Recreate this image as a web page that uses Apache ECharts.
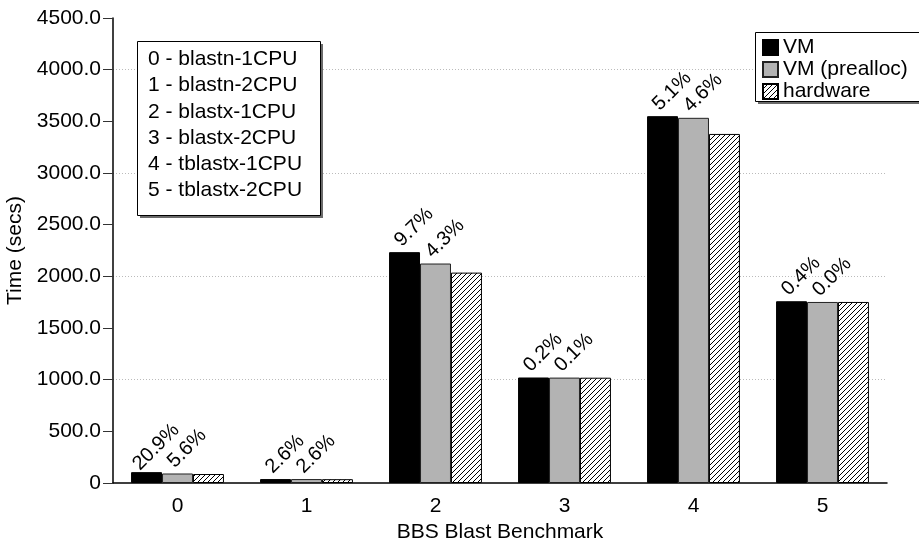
<!DOCTYPE html>
<html>
<head>
<meta charset="utf-8">
<script src="https://cdn.jsdelivr.net/npm/echarts@6/dist/echarts.min.js"></script>
<style>
  html, body { margin: 0; padding: 0; background: #fff; }
  #chart { width: 919px; height: 539px; }
</style>
</head>
<body>
<div id="chart"></div>
<script>
// 横轴类别和各组数据
const categories = ['0', '1', '2', '3', '4', '5']
const benchNames = ['0 - blastn-1CPU', '1 - blastn-2CPU', '2 - blastx-1CPU', '3 - blastx-2CPU', '4 - tblastx-1CPU', '5 - tblastx-2CPU']
const vmData = [105, 38, 2234, 1021, 3550, 1759]
const preallocData = [92, 38, 2124, 1020, 3534, 1752]
const hardwareData = [87, 37, 2036, 1019, 3378, 1752]
// 柱顶的百分比标签
const vmPct = ['20.9%', '2.6%', '9.7%', '0.2%', '5.1%', '0.4%']
const preallocPct = ['5.6%', '2.6%', '4.3%', '0.1%', '4.6%', '0.0%']

const FONT = '"Liberation Sans", Arial, sans-serif'

// 斜线填充
function hatch() {
  const c = document.createElement('canvas')
  c.width = 5
  c.height = 5
  const ctx = c.getContext('2d')
  ctx.fillStyle = '#fff'
  ctx.fillRect(0, 0, 5, 5)
  ctx.strokeStyle = '#000'
  ctx.lineWidth = 1
  ctx.beginPath()
  ctx.moveTo(-1, 6); ctx.lineTo(6, -1)
  ctx.moveTo(-1, 1); ctx.lineTo(1, -1)
  ctx.moveTo(4, 6); ctx.lineTo(6, 4)
  ctx.stroke()
  return c
}

const pctLabel = arr => ({
  show: true,
  position: [25, -25],
  rotate: 45,
  align: 'center',
  verticalAlign: 'middle',
  fontFamily: FONT,
  fontSize: 20,
  color: '#000',
  formatter: p => arr[p.dataIndex]
})

// 带阴影的方框（说明框和图例框）
const shadowBox = (x, y, w, h) => [
  { type: 'rect', z: 3, silent: true, shape: { x: x + 3, y: y + 3, width: w, height: h }, style: { fill: '#6a6a6a' } },
  { type: 'rect', z: 3, silent: true, shape: { x: x + 0.5, y: y + 0.5, width: w, height: h }, style: { fill: '#fff', stroke: '#000', lineWidth: 1 } }
]

const chart = echarts.init(document.getElementById('chart'))
chart.setOption({
  animation: false,
  graphic: [
    ...shadowBox(137, 41, 183, 174),
    {
      type: 'text', z: 3, silent: true, x: 148, y: 46,
      style: { text: benchNames.join('\n'), font: '21px ' + FONT, lineHeight: 26.3, fill: '#000' }
    },
    ...shadowBox(755, 32, 166, 69)
  ],
  legend: {
    orient: 'vertical',
    left: 755,
    top: 32,
    padding: [5, 10, 4, 7],
    itemWidth: 15,
    itemHeight: 15,
    itemGap: 1,
    icon: 'rect',
    textStyle: { fontFamily: FONT, fontSize: 21, color: '#000' },
    data: ['VM', 'VM (prealloc)', 'hardware']
  },
  grid: { left: 113, right: 32, top: 18, bottom: 56, containLabel: false, outerBoundsMode: 'none' },
  xAxis: {
    type: 'category',
    data: categories,
    name: 'BBS Blast Benchmark',
    nameLocation: 'middle',
    nameGap: 38,
    nameTextStyle: { fontFamily: FONT, fontSize: 21, color: '#000' },
    axisLine: { lineStyle: { color: '#000', width: 1.5 } },
    axisTick: { alignWithLabel: true, length: 8, lineStyle: { color: '#000' } },
    axisLabel: { fontFamily: FONT, fontSize: 21, color: '#000', margin: 13 }
  },
  yAxis: [
    {
      type: 'value',
      min: 0,
      max: 4500,
      interval: 500,
      name: 'Time (secs)',
      nameLocation: 'middle',
      nameRotate: 90,
      nameGap: 79,
      nameTextStyle: { fontFamily: FONT, fontSize: 21, color: '#000' },
      axisLine: { show: true, lineStyle: { color: '#000', width: 1.5 } },
      axisTick: { show: true, length: 10, lineStyle: { color: '#333' } },
      axisLabel: {
        fontFamily: FONT, fontSize: 21, color: '#000', margin: 12,
        formatter: v => (v === 0 ? '0' : v.toFixed(1))
      },
      splitLine: { show: false }
    },
    {
      // 只用于画每1000的虚线网格
      type: 'value',
      min: 0,
      max: 4500,
      interval: 1000,
      axisLine: { show: false },
      axisTick: { show: false },
      axisLabel: { show: false },
      splitLine: { show: true, showMinLine: false, showMaxLine: false, lineStyle: { color: '#bbb', type: [1, 2], width: 1 } }
    }
  ],
  series: [
    {
      name: 'VM',
      type: 'bar',
      data: vmData,
      barGap: 0,
      barCategoryGap: '28%',
      itemStyle: { color: '#000', borderColor: '#000', borderWidth: 1 },
      label: pctLabel(vmPct)
    },
    {
      name: 'VM (prealloc)',
      type: 'bar',
      data: preallocData,
      barGap: 0,
      barCategoryGap: '28%',
      itemStyle: { color: '#b3b3b3', borderColor: '#222', borderWidth: 1 },
      label: pctLabel(preallocPct)
    },
    {
      name: 'hardware',
      type: 'bar',
      data: hardwareData,
      barGap: 0,
      barCategoryGap: '28%',
      itemStyle: { color: { image: hatch(), repeat: 'repeat' }, borderColor: '#000', borderWidth: 1 }
    }
  ]
})
</script>
</body>
</html>
